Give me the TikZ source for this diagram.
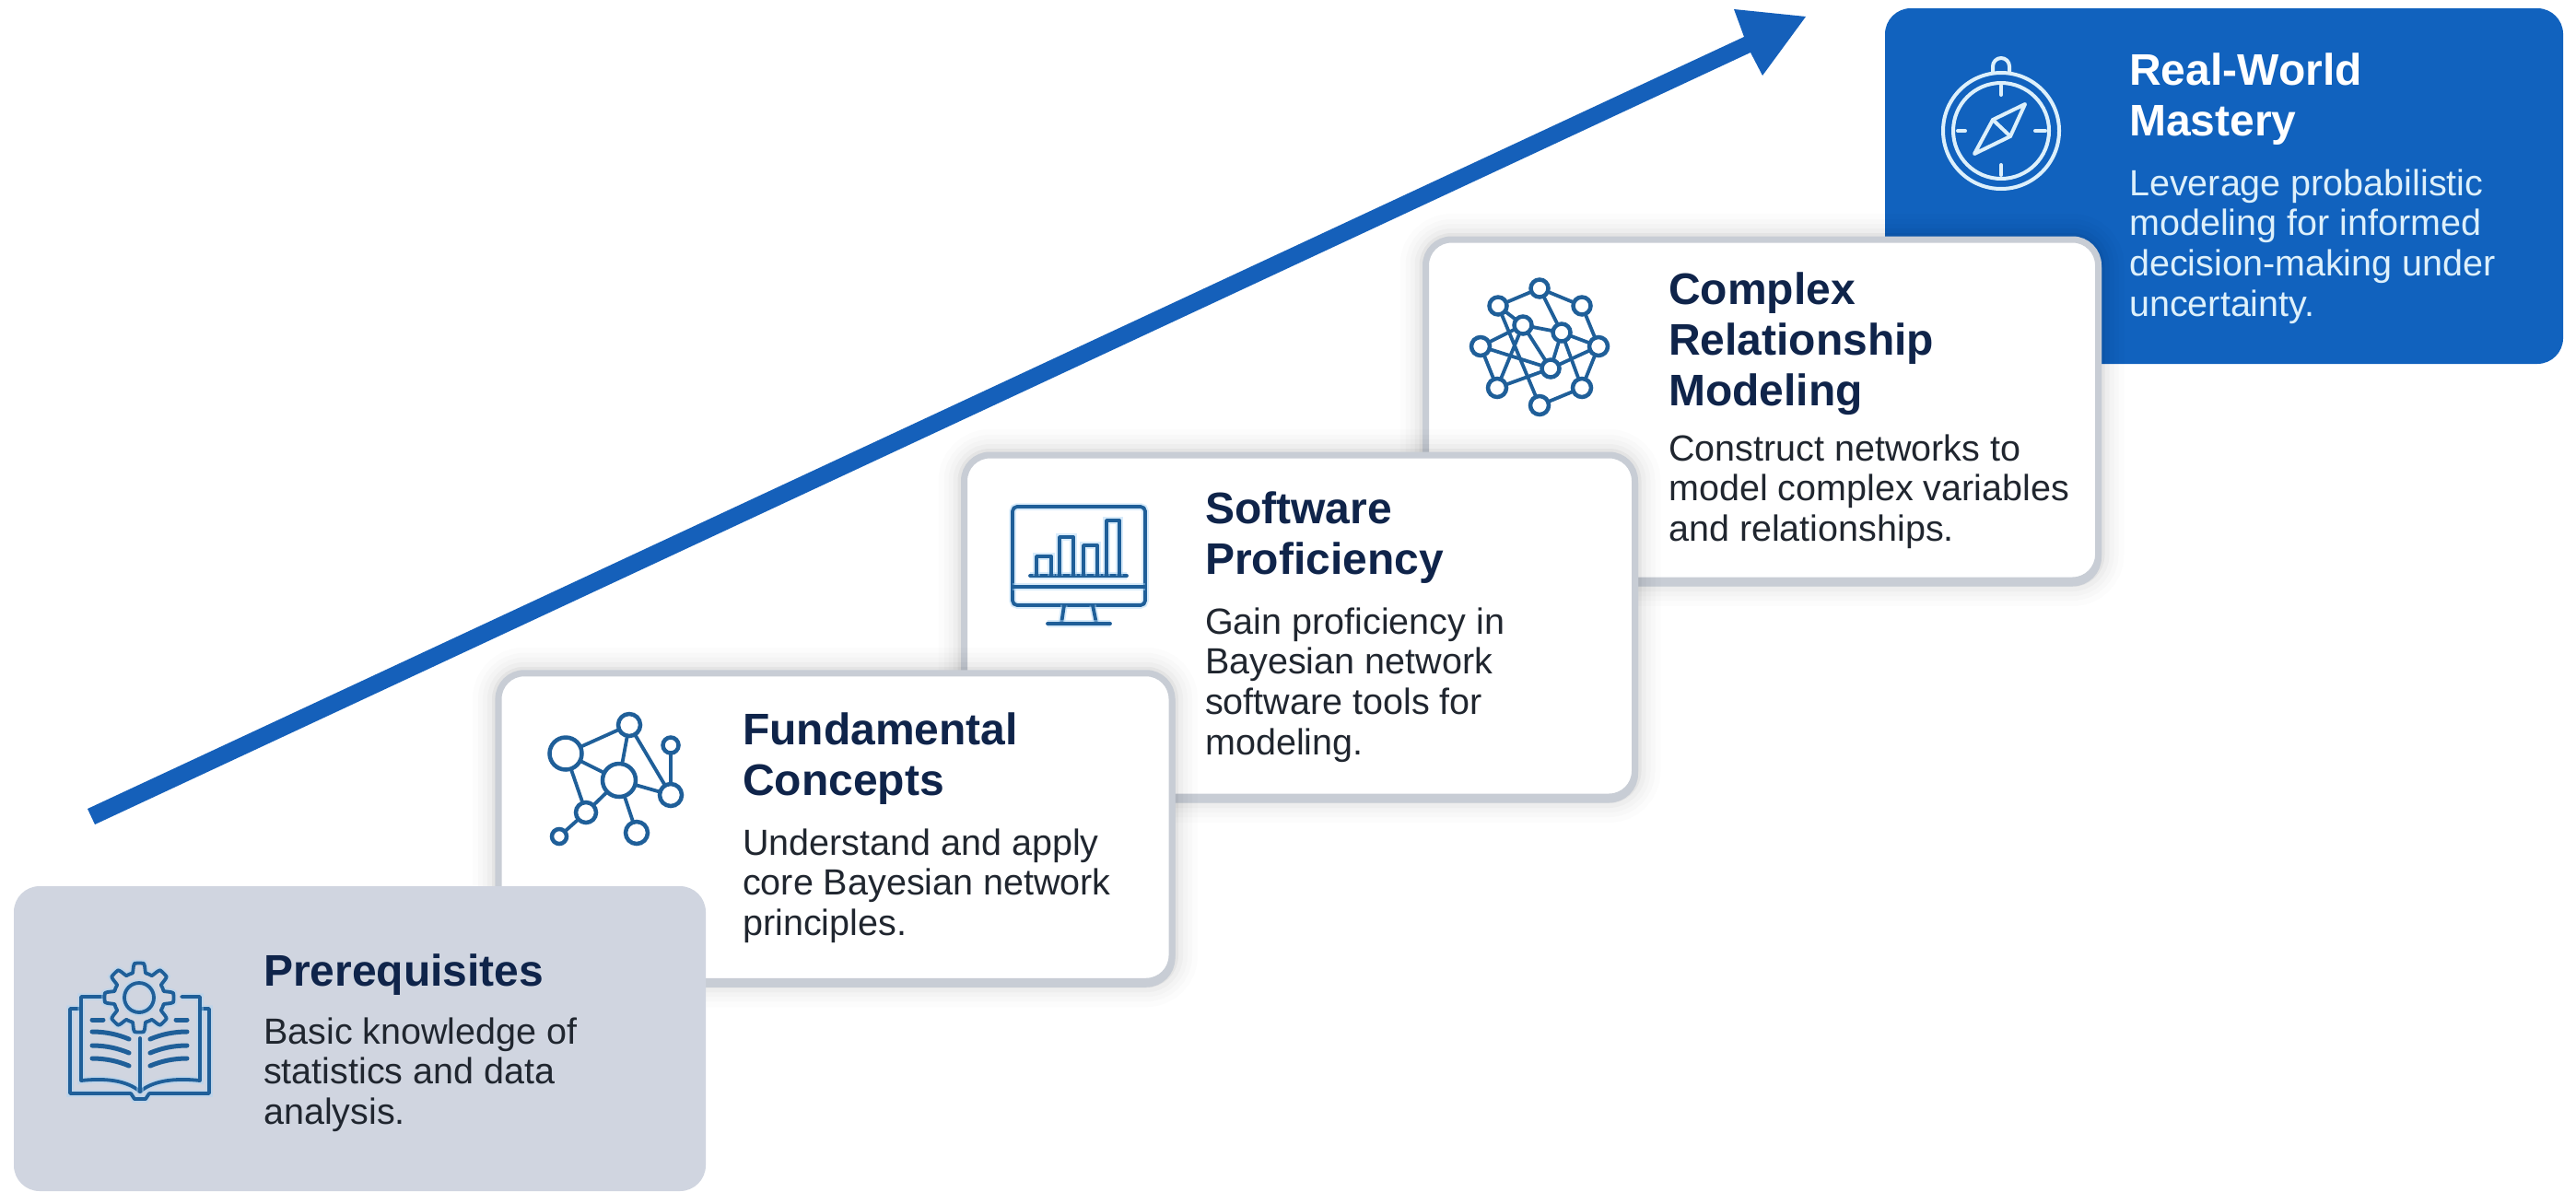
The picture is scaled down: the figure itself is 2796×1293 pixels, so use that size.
\documentclass[tikz,border=0pt]{standalone}
\usepackage{fontspec}
\setmainfont{Liberation Sans}
\definecolor{navy}{HTML}{0F244A}
\definecolor{ink}{HTML}{20262F}
\definecolor{bluefill}{HTML}{1162BE}
\definecolor{arrowblue}{HTML}{1560BA}
\definecolor{greycard}{HTML}{D0D5E0}
\definecolor{edgegrey}{HTML}{C8CDD5}
\definecolor{iconblue}{HTML}{1F5F99}
\definecolor{iconglow}{HTML}{A9D3F5}
\definecolor{paleblue}{HTML}{DDF0FB}
\newcommand{\titlestrut}{\rule{0pt}{40pt}}
\newcommand{\bodystrut}{\rule{0pt}{32pt}}
\tikzset{
  x=1pt,y=-1pt,
  whitecard/.style={rectangle,rounded corners=28pt,inner sep=0pt,fill=white,draw=edgegrey,line width=7pt,
    preaction={draw=black,opacity=.012,line width=56pt},
    preaction={draw=black,opacity=.014,line width=44pt},
    preaction={draw=black,opacity=.016,line width=34pt},
    preaction={draw=black,opacity=.025,line width=24pt},
    preaction={draw=black,opacity=.04,line width=14pt},
    preaction={draw=edgegrey,line width=7pt,transform canvas={yshift=-3pt}}},
  greytile/.style={rectangle,rounded corners=28pt,inner sep=0pt,fill=greycard},
  bluetile/.style={rectangle,rounded corners=28pt,inner sep=0pt,fill=bluefill},
  cardtitle/.style={anchor=north west,inner sep=0pt,align=left,yshift=40pt,text=navy,
    font=\fontsize{48}{55}\selectfont\bfseries},
  cardbody/.style={anchor=north west,inner sep=0pt,align=left,yshift=32pt,text=ink,
    font=\fontsize{39.5}{43.6}\selectfont},
  iconline/.style={draw=iconblue,line width=3.8pt,line cap=round,line join=round,
    preaction={draw=iconglow,line width=7.5pt,opacity=.45}},
  textline/.style={draw=iconblue,line width=5pt,line cap=round},
  netnode/.style={circle,draw=iconblue,line width=4.5pt,inner sep=0pt,outer sep=1pt},
  netedge/.style={draw=iconblue,line width=3.8pt},
  compassline/.style={draw=paleblue,line width=4pt,line cap=round,line join=round},
}
\begin{document}
\begin{tikzpicture}
\useasboundingbox (0,0) rectangle (2796,1293);
\fill[white] (0,0) rectangle (2796,1293);

% rising arrow
\coordinate (arrowTailA) at (95,878);
\coordinate (arrowTailB) at (103,895);
\coordinate (arrowNotchA) at (1893,40);
\coordinate (arrowBackA) at (1882,10);
\coordinate (arrowTip) at (1960,18);
\coordinate (arrowBackB) at (1913,82);
\coordinate (arrowNotchB) at (1900,57);
\fill[arrowblue] (arrowTailA) -- (arrowNotchA) -- (arrowBackA) -- (arrowTip) -- (arrowBackB) -- (arrowNotchB) -- (arrowTailB) -- cycle;

% card 5
\node[bluetile,minimum width=736pt,minimum height=386pt] (masteryCard) at (2414,202) {};
\node[cardtitle,text=white] (masteryTitle) at (2311,92) {\titlestrut Real-World\\Mastery};
\node[cardbody,text=paleblue] (masteryBody) at (2311,212) {\bodystrut Leverage probabilistic\\modeling for informed\\decision-making under\\uncertainty.};
\draw[compassline] (2172,142) circle [radius=63];
\draw[compassline] (2172,142) circle [radius=52];
\draw[compassline] (2163,78) -- (2163,72) arc[start angle=180,end angle=360,radius=9] -- (2181,78);
\draw[compassline] (2172,93) -- (2172,103);
\draw[compassline] (2172,179) -- (2172,190);
\draw[compassline] (2125,142) -- (2133,142);
\draw[compassline] (2209,142) -- (2220,142);
\draw[compassline] (2198,113) -- (2182,148) -- (2143,167) -- (2163,130) -- cycle;
\draw[compassline] (2163,130) -- (2182,148);

% card 4
\node[whitecard,minimum width=730pt,minimum height=370pt] (complexCard) at (1912.5,445) {};
\node[cardtitle] (complexTitle) at (1811,330) {\titlestrut Complex\\Relationship\\Modeling};
\node[cardbody] (complexBody) at (1811,500) {\bodystrut Construct networks to\\model complex variables\\and relationships.};
\foreach \n/\px/\py/\s in {a/1671/313/19,b/1626/332/19,c/1717/332/19,d/1653/353/19,e/1695/361/19,f/1607/376/20,g/1735/376/20,h/1683/400/19,i/1625/421/20,j/1717/421/20,k/1671/440/20}
  \node[netnode,minimum size=\s pt] (cx\n) at (\px,\py) {};
\foreach \p/\q in {a/b,a/c,a/e,b/d,b/k,c/g,d/e,d/f,d/h,d/i,e/g,e/h,e/j,f/i,f/h,g/h,g/j,h/i,j/k}
  \draw[netedge] (cx\p) -- (cx\q);

% card 3
\node[whitecard,minimum width=728pt,minimum height=371pt] (softwareCard) at (1410.5,679.5) {};
\node[cardtitle] (softwareTitle) at (1308,568) {\titlestrut Software\\Proficiency};
\node[cardbody] (softwareBody) at (1308,688) {\bodystrut Gain proficiency in\\Bayesian network\\software tools for\\modeling.};
\draw[iconline,rounded corners=5pt] (1099,550) rectangle (1243,657);
\draw[iconline] (1099,637) -- (1243,637);
\draw[iconline] (1155,657) -- (1152,677);
\draw[iconline] (1186,657) -- (1190,677);
\draw[iconline] (1137,677) -- (1205,677);
\draw[iconline] (1118,625) -- (1223,625);
\draw[iconline] (1125,625) |- (1141,604) -- (1141,625);
\draw[iconline] (1150,625) |- (1165,583) -- (1165,625);
\draw[iconline] (1176,625) |- (1191,592) -- (1191,625);
\draw[iconline] (1201,625) |- (1215,565) -- (1215,625);

% card 2
\node[whitecard,minimum width=731pt,minimum height=334.5pt] (fundCard) at (906.5,898) {};
\node[cardtitle] (fundTitle) at (806,808) {\titlestrut Fundamental\\Concepts};
\node[cardbody] (fundBody) at (806,928) {\bodystrut Understand and apply\\core Bayesian network\\principles.};
\foreach \n/\px/\py/\s in {a/614/818/35,b/683/787/24,c/672/847/36,d/728/809/17,e/728/863/24,f/636/882/22,g/691/904/24,h/607/908/16}
  \node[netnode,minimum size=\s pt] (fn\n) at (\px,\py) {};
\foreach \p/\q in {a/b,b/c,b/e,a/c,a/f,c/f,c/e,c/g,d/e,f/h}
  \draw[netedge] (fn\p) -- (fn\q);

% card 1
\node[greytile,minimum width=751pt,minimum height=331pt] (preCard) at (390.5,1127.5) {};
\node[cardtitle] (preTitle) at (286,1070) {\titlestrut Prerequisites};
\node[cardbody] (preBody) at (286,1133) {\bodystrut Basic knowledge of\\statistics and data\\analysis.};
% book icon
\draw[iconline] (88,1095) -- (76,1095) -- (76,1187) -- (142,1187) -- (146,1193) -- (158,1193) -- (162,1187) -- (227,1187) -- (227,1095) -- (217,1095);
\draw[iconline] (117,1082) -- (88,1082) -- (88,1173) .. controls (115,1170) and (138,1173) .. (152,1185) .. controls (166,1173) and (190,1170) .. (217,1173) -- (217,1082) -- (197,1082);
\draw[iconline] (152,1127) -- (152,1185);
\draw[textline] (100,1107) -- (112,1107);
\draw[textline] (191,1107) -- (203,1107);
\foreach \yy in {1120,1135,1149}{
  \draw[textline] (100,\yy) .. controls (115,\yy) and (128,\yy+3) .. (140,\yy+8);
  \draw[textline] (203,\yy) .. controls (188,\yy) and (175,\yy+3) .. (163,\yy+8);
}
\draw[iconline,fill=greycard,shift={(151,1083)}] plot[domain=0:360,samples=145,smooth] (\x:{32.5+5*max(-1,min(1,2.5*sin(8*\x+90)))}) -- cycle;
\draw[iconline] (151,1083) circle [radius=16];
\end{tikzpicture}
\end{document}
